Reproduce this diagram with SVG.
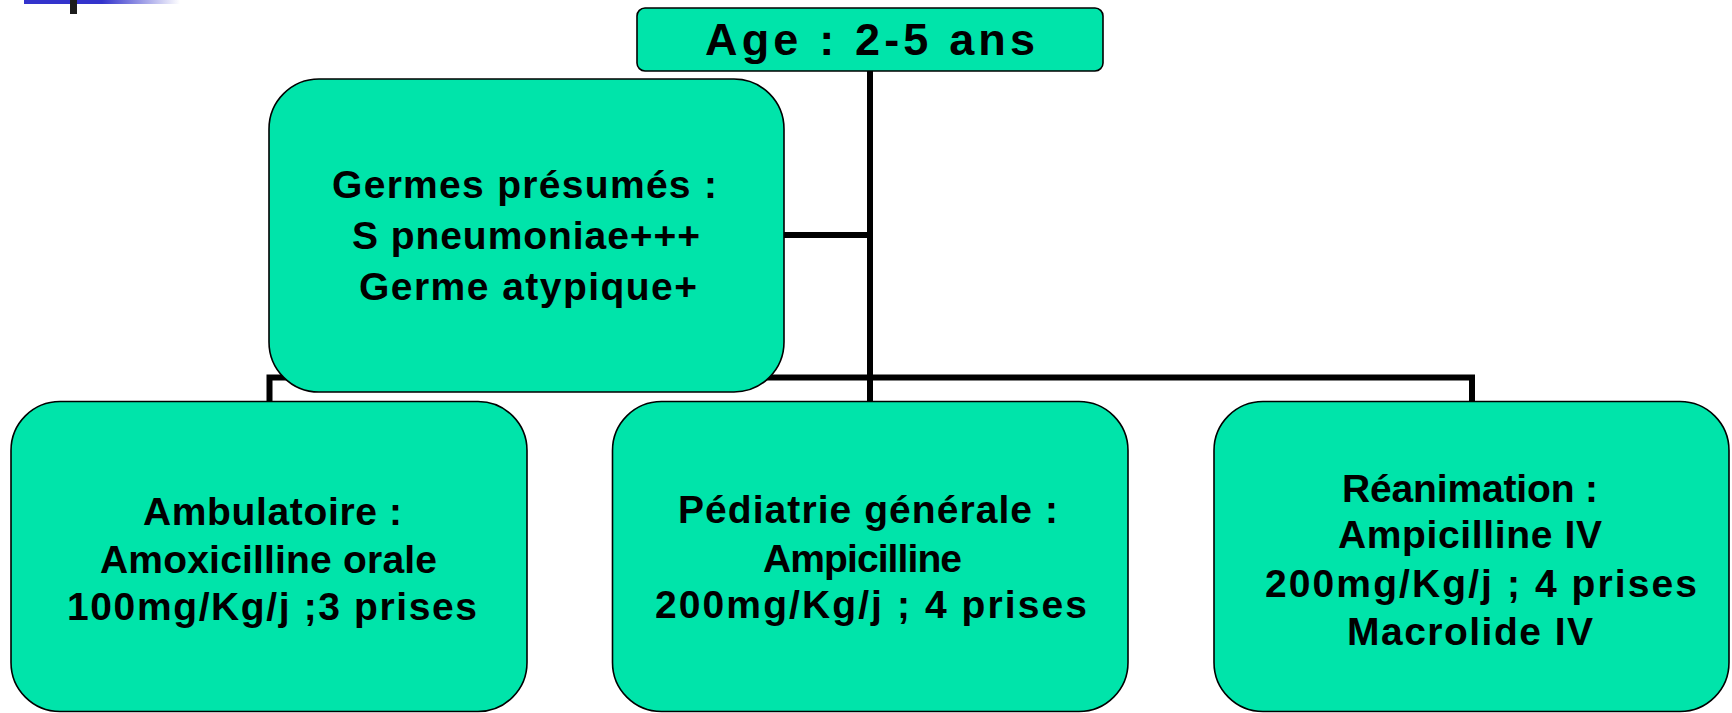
<svg xmlns="http://www.w3.org/2000/svg" width="1732" height="713" viewBox="0 0 1732 713">
<defs>
<linearGradient id="bar" x1="0" y1="0" x2="1" y2="0">
<stop offset="0" stop-color="#3333CC"/>
<stop offset="0.5" stop-color="#3333CC"/>
<stop offset="1" stop-color="#FFFFFF"/>
</linearGradient>
<style>
.box{fill:#00E4AA;stroke:#000;stroke-width:1.6}
.conn{fill:none;stroke:#000;stroke-width:6;stroke-linecap:butt}
.t{font-family:"Liberation Sans",Arial,sans-serif;font-weight:bold;font-size:39px;fill:#000;text-anchor:middle}
.title{font-size:45px}
</style>
</defs>
<rect width="1732" height="713" fill="#FFFFFF"/>
<g id="decor">
<rect x="24" y="0" width="156" height="4" fill="url(#bar)"/>
<rect x="70" y="0" width="7" height="14" fill="#1c1c1c"/>
</g>
<g id="connectors">
<line class="conn" x1="870" y1="71" x2="870" y2="402"/>
<line class="conn" x1="784" y1="235" x2="870" y2="235"/>
<polyline class="conn" points="269.5,402 269.5,377.5 1472,377.5 1472,402"/>
</g>
<g id="node-age">
<rect class="box" x="637" y="8" width="466" height="63" rx="8"/>
<text class="t title" x="870" y="55" textLength="330" lengthAdjust="spacing">Age : 2-5 ans</text>
</g>
<g id="node-germes">
<rect class="box" x="269" y="79" width="515" height="313" rx="50"/>
<text class="t" x="524.5" y="198" textLength="385" lengthAdjust="spacing">Germes présumés :</text>
<text class="t" x="526" y="249" textLength="348" lengthAdjust="spacing">S pneumoniae+++</text>
<text class="t" x="528" y="300" textLength="338" lengthAdjust="spacing">Germe atypique+</text>
</g>
<g id="node-ambulatoire">
<rect class="box" x="11" y="401.5" width="516" height="310" rx="49"/>
<text class="t" x="272.5" y="525" textLength="259" lengthAdjust="spacing">Ambulatoire :</text>
<text class="t" x="268.5" y="573" textLength="337" lengthAdjust="spacing">Amoxicilline orale</text>
<text class="t" x="272" y="620" textLength="410" lengthAdjust="spacing">100mg/Kg/j ;3 prises</text>
</g>
<g id="node-pediatrie">
<rect class="box" x="612.5" y="401.5" width="515.5" height="310" rx="49"/>
<text class="t" x="868" y="523" textLength="380" lengthAdjust="spacing">Pédiatrie générale :</text>
<text class="t" x="862.5" y="572" textLength="199" lengthAdjust="spacing">Ampicilline</text>
<text class="t" x="871" y="618" textLength="432" lengthAdjust="spacing">200mg/Kg/j ; 4 prises</text>
</g>
<g id="node-reanimation">
<rect class="box" x="1214" y="401.5" width="515" height="310" rx="49"/>
<text class="t" x="1470" y="502" textLength="256" lengthAdjust="spacing">Réanimation :</text>
<text class="t" x="1470" y="548" textLength="264" lengthAdjust="spacing">Ampicilline IV</text>
<text class="t" x="1481" y="597" textLength="432" lengthAdjust="spacing">200mg/Kg/j ; 4 prises</text>
<text class="t" x="1470" y="645" textLength="246" lengthAdjust="spacing">Macrolide IV</text>
</g>
</svg>
